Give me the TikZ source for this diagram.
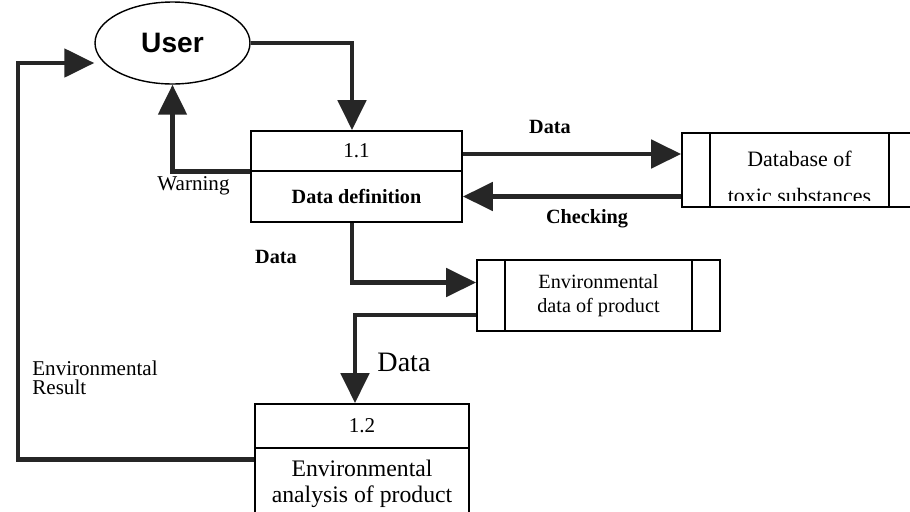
\documentclass[tikz,border=0pt]{standalone}
\usepackage{fontspec}
\setmainfont{Liberation Serif}
\newfontfamily\userfont{Liberation Sans}
\usetikzlibrary{positioning,arrows.meta,shapes.geometric,calc}

\begin{document}
\begin{tikzpicture}[x=0.02cm, y=-0.02cm, >={Triangle[length=0.6cm,width=0.56cm]},
    procnum/.style={rectangle, draw, line width=1pt, inner sep=0pt, font=\fontsize{12}{14}\selectfont},
    procbody/.style={rectangle, draw, line width=1pt, inner sep=0pt, align=center},
    store/.style={rectangle, draw, line width=1pt, inner sep=0pt, minimum height=1.48cm, align=center,
        path picture={\draw[line width=1pt]
            ([xshift=0.56cm]path picture bounding box.north west) -- ([xshift=0.56cm]path picture bounding box.south west)
            ([xshift=-0.56cm]path picture bounding box.north east) -- ([xshift=-0.56cm]path picture bounding box.south east);}},
    flow/.style={->, line width=2.8pt, draw=black!85},
    lbl/.style={inner sep=0pt, font=\bfseries\fontsize{11.5}{13}\selectfont}]
    \clip (0,0) rectangle (910,511);
    \fill[white] (0,0) rectangle (910,511);

    \node[ellipse, draw, line width=0.8pt, minimum width=3.1cm, minimum height=1.64cm, inner sep=0pt,
        font=\userfont\bfseries\fontsize{16}{18}\selectfont] (user) at (172.5,43) {User};

    \node[procnum, minimum width=4.22cm, minimum height=0.8cm] (p11id) at (356.5,151) {1.1};
    \node[procbody, minimum width=4.22cm, minimum height=1.02cm, font=\bfseries\fontsize{11.5}{13}\selectfont] (p11) at (356.5,196.5) {Data definition};

    \node[procnum, minimum width=4.28cm, minimum height=0.88cm] (p12id) at (362,426) {1.2};
    \node[procbody, minimum width=4.28cm, minimum height=1.44cm, font=\fontsize{13.5}{14.5}\selectfont] (p12) at (362,484) {Environmental\\analysis of product};

    % second line of the store label runs into the bottom edge
    \node[store, minimum width=4.7cm] (db) at (799.5,170) {};
    \begin{scope}
        \clip (db.north west) rectangle ([yshift=0.15cm]db.south east);
        \node[align=center, font=\fontsize{12.5}{21}\selectfont] (dbtext) at ([yshift=-0.15cm]db.center) {Database of\\toxic substances};
    \end{scope}

    \node[store, minimum width=4.86cm, minimum height=1.42cm, font=\fontsize{11.5}{14}\selectfont] (env) at (598.5,295.5) {Environmental\\data of product};

    \coordinate (back) at (18,63);

    \draw[flow] (user.east) -| ([xshift=-0.09cm]p11id.north);
    \draw[flow] (p11id.south west) -| (user.south);
    \draw[flow] ([yshift=-0.06cm]p11id.east) -- ([yshift=-0.06cm]p11id.east -| db.west);
    \draw[flow] (db.west |- p11.east) -- (p11.east);
    \draw[flow] ([xshift=-0.09cm]p11.south) |- ([yshift=0.26cm]env.west);
    \draw[flow] ([yshift=-0.39cm]env.west) -| ([xshift=-0.14cm]p12id.north);
    \draw[flow] ([yshift=-0.24cm]p12.north west) -| (back) -- (back -| user.west);

    \node[inner sep=0pt, font=\fontsize{12}{14}\selectfont] (warn) at (193.5,186) {Warning};
    \node[lbl] (dtop) at (550,127) {Data};
    \node[lbl] (chk) at (587,219) {Checking};
    \node[lbl] (dleft) at (276,257) {Data};
    \node[inner sep=0pt, font=\fontsize{16}{18}\selectfont] (dbig) at (404,362) {Data};
    \node[inner sep=0pt, anchor=west, align=left, font=\fontsize{12}{10.5}\selectfont] (res) at (32,378) {Environmental\\ Result};
\end{tikzpicture}
\end{document}
